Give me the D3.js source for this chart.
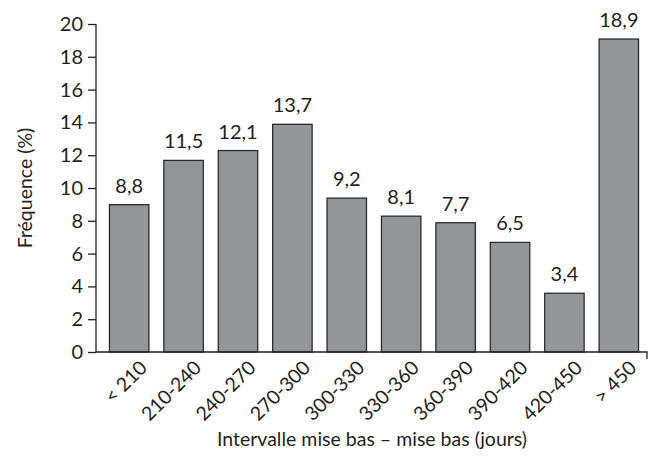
<!DOCTYPE html>
<html>
<head>
<meta charset="utf-8">
<script src="https://cdn.jsdelivr.net/npm/d3@7"></script>
<style>
  html, body { margin: 0; padding: 0; background: #fff; }
  svg { display: block; }
  text { font-family: "Lato", "Open Sans", sans-serif; fill: #231f20; }
</style>
</head>
<body>
<script>
const categories = ["< 210", "210-240", "240-270", "270-300", "300-330", "330-360", "360-390", "390-420", "420-450", "> 450"];
const values = [8.8, 11.5, 12.1, 13.7, 9.2, 8.1, 7.7, 6.5, 3.4, 18.9];
const valueLabels = ["8,8", "11,5", "12,1", "13,7", "9,2", "8,1", "7,7", "6,5", "3,4", "18,9"];
const yTicks = [0, 2, 4, 6, 8, 10, 12, 14, 16, 18, 20];
const yTitle = "Fréquence (%)";
const xTitle = "Intervalle mise bas – mise bas (jours)";

const W = 656, H = 457;
const axisX0 = 96, axisX1 = 647, y0 = 352, yTop = 24;
const FONT = "Lato, 'Open Sans', sans-serif";

const svg = d3.select("body").append("svg").attr("width", W).attr("height", H);

const x = d3.scaleBand().domain(categories).range([102, 646]).paddingInner(0.275).paddingOuter(0.137);
const y = d3.scaleLinear().domain([0, 20]).range([y0, yTop]);

// bars
svg.append("g").selectAll("rect").data(values).join("rect")
  .attr("x", (d, i) => x(categories[i]))
  .attr("y", d => y(d) - 3)
  .attr("width", x.bandwidth())
  .attr("height", d => y0 - y(d) + 3)
  .attr("fill", "#939598")
  .attr("stroke", "#2b2b2b")
  .attr("stroke-width", 1.3);

// value labels
svg.append("g").selectAll("text").data(values).join("text")
  .attr("x", (d, i) => x(categories[i]) + x.bandwidth() / 2)
  .attr("y", d => y(d) - 15)
  .attr("text-anchor", "middle")
  .attr("font-size", 20)
  .text((d, i) => valueLabels[i]);

// y axis
const yAxis = d3.axisLeft(y).tickValues(yTicks).tickSize(8).tickPadding(5).tickFormat(d3.format("d"));
const gy = svg.append("g").attr("transform", `translate(${axisX0},0)`).call(yAxis);
gy.select(".domain").attr("d", `M0,${yTop}V${y0}`).attr("stroke", "#231f20").attr("stroke-width", 1.3);
gy.selectAll(".tick line").attr("stroke", "#231f20").attr("stroke-width", 1.3);
gy.selectAll(".tick text").attr("font-size", 20).attr("font-family", FONT).attr("fill", "#231f20");

// x axis
const xAxis = d3.axisBottom(x).tickSize(0).tickPadding(0);
const gx = svg.append("g").attr("transform", `translate(0,${y0})`).call(xAxis);
gx.select(".domain").attr("d", `M${axisX0},0H${axisX1}V7`).attr("stroke", "#231f20").attr("stroke-width", 1.3).attr("fill", "none");
gx.selectAll(".tick text")
  .attr("font-size", 19.5)
  .attr("font-family", FONT)
  .attr("fill", "#231f20")
  .attr("text-anchor", "end")
  .attr("dy", 0)
  .attr("y", 0)
  .attr("transform", "translate(19,17) rotate(-45)");

// titles
svg.append("text")
  .attr("transform", `translate(32,188) rotate(-90)`)
  .attr("text-anchor", "middle")
  .attr("font-size", 19.5)
  .text(yTitle);

svg.append("text")
  .attr("x", 372).attr("y", 446)
  .attr("text-anchor", "middle")
  .attr("font-size", 19.5)
  .text(xTitle);
</script>
</body>
</html>
